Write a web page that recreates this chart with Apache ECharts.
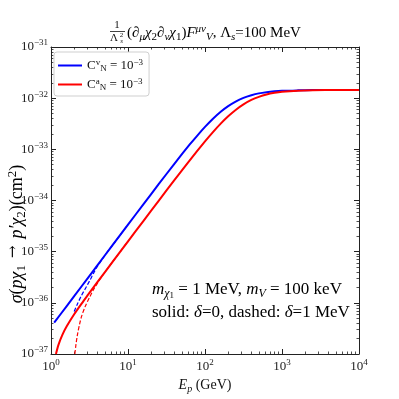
<!DOCTYPE html>
<html>
<head>
<meta charset="utf-8">
<script src="https://cdn.jsdelivr.net/npm/echarts@6/dist/echarts.min.js"></script>
<style>
html, body { margin: 0; padding: 0; background: #fff; }
#chart { width: 399px; height: 399px; }
</style>
</head>
<body>
<div id="chart"></div>
<script>
// E_p (GeV) and sigma (cm^2)
var blueE = [1.1, 1.6, 2.5, 4, 6.3, 10, 16, 25, 40, 63, 79, 100, 126, 160, 200, 250, 316, 400, 500, 630, 800, 1000, 1600, 2500, 4000, 6300, 10000];
var blueSigma = [4.09e-37, 8.65e-37, 2.11e-36, 5.41e-36, 1.34e-35, 3.37e-35, 8.60e-35, 2.08e-34, 5.21e-34, 1.23e-33, 1.84e-33, 2.74e-33, 3.92e-33, 5.42e-33, 6.99e-33, 8.60e-33, 1.013e-32, 1.14e-32, 1.24e-32, 1.31e-32, 1.36e-32, 1.39e-32, 1.42e-32, 1.44e-32, 1.445e-32, 1.447e-32, 1.448e-32];

var redE = [1.16, 1.25, 1.4, 1.6, 2, 2.5, 3, 4, 6.3, 10, 16, 25, 40, 63, 100, 126, 160, 200, 250, 316, 400, 500, 630, 800, 1000, 1600, 2500, 4000, 6300, 10000];
var redSigma = [1.0e-37, 1.51e-37, 2.34e-37, 3.47e-37, 5.97e-37, 9.68e-37, 1.41e-36, 2.53e-36, 6.30e-36, 1.59e-35, 4.06e-35, 9.86e-35, 2.50e-34, 6.04e-34, 1.43e-33, 2.15e-33, 3.18e-33, 4.42e-33, 5.89e-33, 7.57e-33, 9.23e-33, 1.06e-32, 1.18e-32, 1.27e-32, 1.33e-32, 1.40e-32, 1.43e-32, 1.44e-32, 1.445e-32, 1.448e-32];

var blueDashE = [2.0, 2.24, 2.5, 2.8, 3.2, 3.6, 4.0, 5.0, 6.3, 10];
var blueDashSigma = [6.76e-37, 1.0e-36, 1.41e-36, 1.91e-36, 2.75e-36, 3.89e-36, 5.13e-36, 8.41e-36, 1.34e-35, 3.37e-35];

var redDashE = [2.04, 2.1, 2.2, 2.35, 2.5, 2.8, 3.2, 3.6, 4.0, 4.5, 5.0, 6.3, 10];
var redDashSigma = [1.0e-37, 1.45e-37, 2.34e-37, 3.80e-37, 5.50e-37, 8.71e-37, 1.32e-36, 1.86e-36, 2.40e-36, 3.16e-36, 3.96e-36, 6.30e-36, 1.59e-35];

var xTickExp = [0, 1, 2, 3, 4];
var yTickExp = [-37, -36, -35, -34, -33, -32, -31];

// echarts rounds tiny log values to 0, so sigma is plotted in units of 1e-37 cm^2
var Y_UNIT_EXP = -37;
var Y_UNIT = 1e-37;

var FONT = 'Liberation Serif';

function zip(xs, ys) {
  var out = [];
  for (var i = 0; i < xs.length; i++) out.push([xs[i], ys[i] / Y_UNIT]);
  return out;
}

function majorVals(exps, shift) {
  return exps.map(function (e) { return Math.pow(10, e - shift); });
}

// log minor ticks 2..9 in each decade
function minors(majors) {
  var out = [];
  for (var i = 0; i < majors.length - 1; i++) {
    for (var k = 2; k <= 9; k++) out.push(majors[i] * k);
  }
  return out;
}

function powLabel(shift) {
  return function (v) {
    var e = Math.round(Math.log10(v)) + shift;
    return '{b|10}{s|' + (e < 0 ? '\u2212' + (-e) : e) + '}';
  };
}

var powRich = {
  b: { fontFamily: FONT, fontSize: 13, color: '#222', lineHeight: 17 },
  s: { fontFamily: FONT, fontSize: 9, color: '#222', lineHeight: 9, verticalAlign: 'top' }
};

function makeRich(size, lh) {
  var sm = Math.round(size * 0.7);
  return {
    n: { fontFamily: FONT, fontSize: size, color: '#111', lineHeight: lh },
    i: { fontFamily: FONT, fontSize: size, fontStyle: 'italic', color: '#111', lineHeight: lh },
    ar: { fontFamily: 'DejaVu Serif', fontSize: Math.round(size * 0.85), color: '#111',
          lineHeight: Math.round(lh * 0.6), verticalAlign: 'top', padding: [0, 7] },
    sub: { fontFamily: FONT, fontSize: sm, fontStyle: 'italic', color: '#111', lineHeight: sm, verticalAlign: 'bottom' },
    subn: { fontFamily: FONT, fontSize: sm, color: '#111', lineHeight: sm, verticalAlign: 'bottom' },
    ss: { fontFamily: FONT, fontSize: Math.round(size * 0.5), color: '#111', lineHeight: Math.round(size * 0.4), verticalAlign: 'bottom' },
    sup: { fontFamily: FONT, fontSize: sm, fontStyle: 'italic', color: '#111', lineHeight: sm, verticalAlign: 'top' },
    supn: { fontFamily: FONT, fontSize: sm, color: '#111', lineHeight: sm, verticalAlign: 'top' }
  };
}

function axisPair(kind, pos, exps, shift, withLabels) {
  var majors = majorVals(exps, shift);
  var base = {
    type: 'log', logBase: 10, gridIndex: 0, position: pos,
    min: majors[0], max: majors[majors.length - 1],
    splitLine: { show: false },
    axisLine: { show: true, lineStyle: { color: '#222', width: 1 } },
    axisTick: { show: true, inside: true, length: 5, customValues: majors, lineStyle: { color: '#222', width: 1 } },
    axisLabel: { show: false }
  };
  if (withLabels) {
    base.axisLabel = {
      show: true, customValues: majors, formatter: powLabel(shift), rich: powRich,
      margin: kind === 'x' ? 4 : 3
    };
  }
  var minor = {
    type: 'log', logBase: 10, gridIndex: 0, position: pos,
    min: majors[0], max: majors[majors.length - 1],
    splitLine: { show: false },
    axisLine: { show: false },
    axisTick: { show: true, inside: true, length: 2.5, customValues: minors(majors), lineStyle: { color: '#222', width: 0.8 } },
    axisLabel: { show: false }
  };
  return [base, minor];
}

var xAxes = axisPair('x', 'bottom', xTickExp, 0, true).concat(axisPair('x', 'top', xTickExp, 0, false));
xAxes[0].name = '{i|E}{sub|p}{n| (GeV)}';
xAxes[0].nameLocation = 'middle';
xAxes[0].nameGap = 15;
xAxes[0].nameTextStyle = { rich: makeRich(14, 18) };

var yAxes = axisPair('y', 'left', yTickExp, Y_UNIT_EXP, true).concat(axisPair('y', 'right', yTickExp, Y_UNIT_EXP, false));

var chart = echarts.init(document.getElementById('chart'));
var option = {
  animation: false,
  backgroundColor: '#fff',
  grid: { left: 51, right: 40, top: 47, bottom: 45, containLabel: false },
  xAxis: xAxes,
  yAxis: yAxes,
  legend: {
    data: ['Cv', 'Ca'],
    orient: 'vertical',
    left: 54, top: 52,
    icon: 'rect', itemWidth: 24, itemHeight: 2, itemGap: 4,
    padding: [6, 6, 4, 4],
    borderColor: '#cfcfcf', borderWidth: 1, borderRadius: 3,
    formatter: function (name) {
      var c = name === 'Cv' ? 'v' : 'a';
      return '{n|C}{supn|' + c + '}{subn|N}{n| = 10}{supn|\u22123}';
    },
    textStyle: { rich: makeRich(13, 15) }
  },
  series: [
    { name: 'Cv', type: 'line', data: zip(blueE, blueSigma), showSymbol: false, symbol: 'none',
      smooth: 0.3, color: '#0000ff', lineStyle: { width: 2, color: '#0000ff' } },
    { name: 'Ca', type: 'line', data: zip(redE, redSigma), showSymbol: false, symbol: 'none',
      smooth: 0.3, color: '#ff0000', lineStyle: { width: 2, color: '#ff0000' } },
    { name: 'Cv dashed', type: 'line', data: zip(blueDashE, blueDashSigma), showSymbol: false, symbol: 'none',
      smooth: 0.3, color: '#0000ff', lineStyle: { width: 1.2, type: [4, 2], color: '#0000ff' } },
    { name: 'Ca dashed', type: 'line', data: zip(redDashE, redDashSigma), showSymbol: false, symbol: 'none',
      smooth: 0.3, color: '#ff0000', lineStyle: { width: 1.2, type: [4, 2], color: '#ff0000' } }
  ],
  graphic: [
    // title: 1/Lambda_s^2 (d_mu chi2 d_nu chi1) F_V^{mu nu}, Lambda_s=100 MeV
    { type: 'text', x: 117, y: 25, style: { text: '1', font: '11px "Liberation Serif"', fill: '#111',
      align: 'center', verticalAlign: 'middle', textAlign: 'center', textVerticalAlign: 'middle' } },
    { type: 'line', shape: { x1: 110, y1: 31.5, x2: 125, y2: 31.5 }, style: { stroke: '#111', lineWidth: 0.8 } },
    { type: 'text', x: 114, y: 38, style: { text: '\u039b', font: '11px "Liberation Serif"', fill: '#111',
      align: 'center', verticalAlign: 'middle', textAlign: 'center', textVerticalAlign: 'middle' } },
    { type: 'text', x: 121.5, y: 35, style: { text: '2', font: '7px "Liberation Serif"', fill: '#111',
      align: 'center', verticalAlign: 'middle', textAlign: 'center', textVerticalAlign: 'middle' } },
    { type: 'text', x: 121.5, y: 41, style: { text: 's', font: 'italic 7px "Liberation Serif"', fill: '#111',
      align: 'center', verticalAlign: 'middle', textAlign: 'center', textVerticalAlign: 'middle' } },
    { type: 'text', x: 127, y: 33, style: {
      text: '{n|(\u2202}{sub|\u03bc}{i|\u03c7}{subn|2}{n|\u2202}{sub|\u03bd}{i|\u03c7}{subn|1}{n|)}{i|F}{sup|\u03bc\u03bd}{sub|V}{n|, \u039b}{sub|s}{n|=100 MeV}',
      rich: makeRich(15, 19), align: 'left', verticalAlign: 'middle', textAlign: 'left', textVerticalAlign: 'middle' } },
    // y-axis label
    { type: 'text', x: 17, y: 234, rotation: Math.PI / 2, style: {
      text: '{i|\u03c3}{n|(}{i|p\u03c7}{subn|1}{ar|\u2192}{i|p\u2032\u03c7}{subn|2}{n|)(cm}{supn|2}{n|)}',
      rich: makeRich(18, 22), align: 'center', verticalAlign: 'middle', textAlign: 'center', textVerticalAlign: 'middle' } },
    // annotation
    { type: 'text', x: 152, y: 290, style: {
      text: '{i|m}{sub|\u03c7}{ss|1}{n| = 1 MeV, }{i|m}{sub|V}{n| = 100 keV}',
      rich: makeRich(17, 20), align: 'left', verticalAlign: 'middle', textAlign: 'left', textVerticalAlign: 'middle' } },
    { type: 'text', x: 152, y: 313, style: {
      text: '{n|solid: }{i|\u03b4}{n|=0, dashed: }{i|\u03b4}{n|=1 MeV}',
      rich: makeRich(17, 20), align: 'left', verticalAlign: 'middle', textAlign: 'left', textVerticalAlign: 'middle' } }
  ]
};
chart.setOption(option);
</script>
</body>
</html>
